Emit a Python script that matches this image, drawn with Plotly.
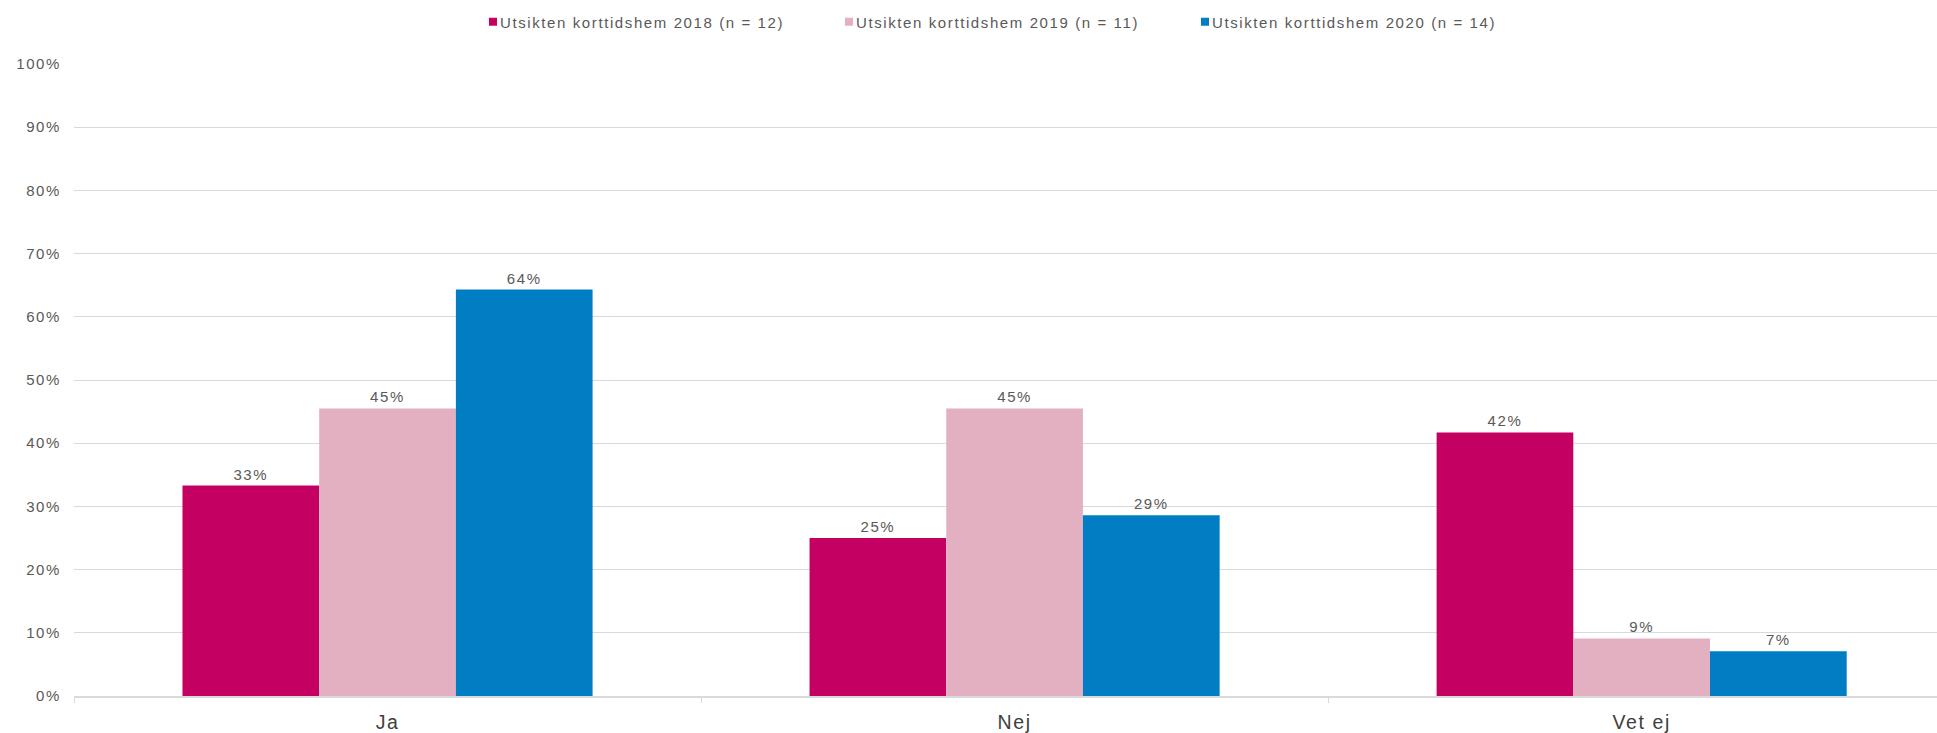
import plotly.graph_objects as go

categories = ["Ja", "Nej", "Vet ej"]
series_names = [
    "Utsikten korttidshem 2018 (n = 12)",
    "Utsikten korttidshem 2019 (n = 11)",
    "Utsikten korttidshem 2020 (n = 14)",
]
values_2018 = [33.3, 25.0, 41.7]
values_2019 = [45.5, 45.5, 9.1]
values_2020 = [64.3, 28.6, 7.1]
labels_2018 = ["33%", "25%", "42%"]
labels_2019 = ["45%", "45%", "9%"]
labels_2020 = ["64%", "29%", "7%"]
colors = ["#C40063", "#E3B0C2", "#007DC3"]
y_ticks = list(range(0, 101, 10))
y_ticktext = [f"{v}%" for v in y_ticks]

FONT = "Liberation Sans, Arial, sans-serif"

fig = go.Figure()
for name, vals, labs, col in zip(series_names,
                                 [values_2018, values_2019, values_2020],
                                 [labels_2018, labels_2019, labels_2020],
                                 colors):
    fig.add_trace(go.Bar(
        x=categories, y=vals, name=name, marker_color=col,
        marker_line_width=0,
        text=labs, textposition="outside", cliponaxis=False,
        textfont=dict(family=FONT, size=15, color="#595959"),
    ))

fig.update_layout(
    template="none",
    width=1937, height=733,
    margin=dict(l=74, r=0, t=64, b=37, autoexpand=False),
    paper_bgcolor="white", plot_bgcolor="white",
    barmode="group", bargap=0.346, bargroupgap=0,
    font=dict(family=FONT, color="#595959"),
    legend=dict(
        orientation="h", x=460 / 1937, xanchor="left", xref="container",
        y=0.9925, yanchor="top", yref="container",
        font=dict(family=FONT, size=15, color="#595959"),
        itemwidth=30, entrywidth=311, entrywidthmode="pixels",
        traceorder="normal", bgcolor="rgba(0,0,0,0)",
    ),
    showlegend=True,
)
fig.update_yaxes(
    range=[0, 100], tickvals=y_ticks, ticktext=y_ticktext,
    showgrid=True, gridcolor="#D9D9D9", gridwidth=1,
    zeroline=False, showline=False, ticks="",
    tickfont=dict(family=FONT, size=15, color="#595959"),
    ticklabelstandoff=12, automargin=False,
)
fig.update_xaxes(
    range=[-0.5, 2.471],
    showline=True, linecolor="#D9D9D9", linewidth=1.5,
    ticks="outside", tickson="boundaries", ticklen=5, tickcolor="#D9D9D9",
    tickwidth=1,
    tickfont=dict(family=FONT, size=19.5, color="#404040"),
    ticklabelstandoff=8,
    showgrid=False, automargin=False,
)

post = """
document.body.style.margin = '0';
document.body.style.overflow = 'hidden';
var gd = document.getElementById('{plot_id}');
gd.querySelectorAll('text').forEach(function(t){ t.style.letterSpacing = '1.6px'; });
gd.querySelectorAll('.legendpoints path').forEach(function(p){
  p.setAttribute('transform', 'translate(33,0) scale(0.67)');
});
"""
fig.write_html("out.html", post_script=post, config={"displayModeBar": False})
